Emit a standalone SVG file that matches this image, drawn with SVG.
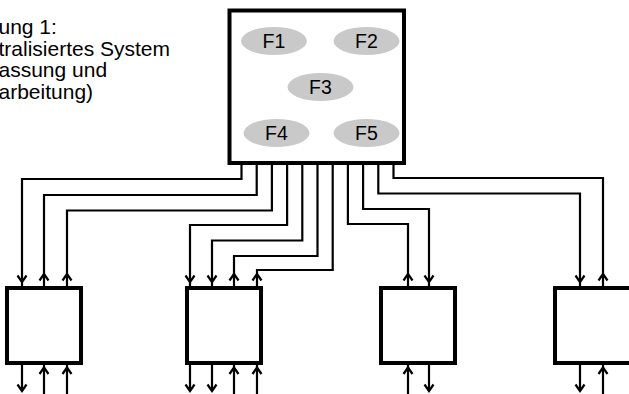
<svg xmlns="http://www.w3.org/2000/svg" xmlns:xlink="http://www.w3.org/1999/xlink" width="629" height="394" viewBox="0 0 629 394">
<style>
.box{fill:#fff;stroke:#000;stroke-width:4}
.ell{fill:#c9c9c9;stroke:none}
.lbl{font-family:"Liberation Sans",Arial,sans-serif;font-size:19.5px;fill:#000;text-anchor:middle}
.title{font-family:"Liberation Sans",Arial,sans-serif;font-size:21px;fill:#000}
.wire{fill:none;stroke:#000;stroke-width:2.2}
</style>
<defs>
<path id="ahd" d="M-4.5,-6.5 L0,0 L4.5,-6.5" fill="none" stroke="#000" stroke-width="2.2"/>
<path id="ahu" d="M-4.5,6.5 L0,0 L4.5,6.5" fill="none" stroke="#000" stroke-width="2.2"/>
</defs>
<g id="title">
<text class="title" x="-1.5" y="34">ung 1:</text>
<text class="title" x="-1.5" y="55.5">tralisiertes System</text>
<text class="title" x="-1.5" y="77">assung und</text>
<text class="title" x="-1.5" y="98.5">arbeitung)</text>
</g>
<g id="connectors">
<path class="wire" d="M241.5,163 V179 H22 V288"/>
<path class="wire" d="M256.7,163 V195 H44 V288"/>
<path class="wire" d="M271.9,163 V210.5 H67 V288"/>
<path class="wire" d="M287.1,163 V225 H190 V288"/>
<path class="wire" d="M302.3,163 V240.5 H212 V288"/>
<path class="wire" d="M317.5,163 V256 H234 V288"/>
<path class="wire" d="M332.7,163 V270 H257 V288"/>
<path class="wire" d="M347.9,163 V224 H408 V288"/>
<path class="wire" d="M363.1,163 V209 H429 V288"/>
<path class="wire" d="M378.3,163 V193.5 H580 V288"/>
<path class="wire" d="M393.5,163 V178 H603 V288"/>
<use xlink:href="#ahd" x="22" y="282"/>
<use xlink:href="#ahu" x="44" y="274"/>
<use xlink:href="#ahu" x="67" y="274"/>
<use xlink:href="#ahd" x="190" y="282"/>
<use xlink:href="#ahd" x="212" y="282"/>
<use xlink:href="#ahu" x="234" y="274"/>
<use xlink:href="#ahu" x="257" y="274"/>
<use xlink:href="#ahu" x="408" y="274"/>
<use xlink:href="#ahd" x="429" y="282"/>
<use xlink:href="#ahd" x="580" y="282"/>
<use xlink:href="#ahu" x="603" y="274"/>
<path class="wire" d="M22,363 V391 M44,363 V394 M67,363 V394 M190,363 V391 M212,363 V391 M234,363 V394 M257,363 V394 M408,363 V394 M429,363 V391 M580,363 V391 M603,363 V394"/>
<use xlink:href="#ahd" x="22" y="391"/>
<use xlink:href="#ahu" x="44" y="367.5"/>
<use xlink:href="#ahu" x="67" y="367.5"/>
<use xlink:href="#ahd" x="190" y="391"/>
<use xlink:href="#ahd" x="212" y="391"/>
<use xlink:href="#ahu" x="234" y="367.5"/>
<use xlink:href="#ahu" x="257" y="367.5"/>
<use xlink:href="#ahu" x="408" y="367.5"/>
<use xlink:href="#ahd" x="429" y="391"/>
<use xlink:href="#ahd" x="580" y="391"/>
<use xlink:href="#ahu" x="603" y="367.5"/>
</g>
<g id="central">
<rect class="box" x="229.5" y="10.5" width="174.5" height="152.5"/>
<g id="F1"><ellipse class="ell" cx="274" cy="41" rx="33" ry="14"/><text class="lbl" x="274" y="48">F1</text></g>
<g id="F2"><ellipse class="ell" cx="366.5" cy="41" rx="33" ry="14"/><text class="lbl" x="366.5" y="48">F2</text></g>
<g id="F3"><ellipse class="ell" cx="320.5" cy="87" rx="33" ry="14"/><text class="lbl" x="320.5" y="94">F3</text></g>
<g id="F4"><ellipse class="ell" cx="276.5" cy="133" rx="33" ry="14"/><text class="lbl" x="276.5" y="140">F4</text></g>
<g id="F5"><ellipse class="ell" cx="366.5" cy="133" rx="33" ry="14"/><text class="lbl" x="366.5" y="140">F5</text></g>
</g>
<g id="nodeA"><rect class="box" x="7" y="288" width="74" height="75"/></g>
<g id="nodeB"><rect class="box" x="187" y="288" width="74" height="75"/></g>
<g id="nodeC"><rect class="box" x="381" y="288" width="74" height="75"/></g>
<g id="nodeD"><rect class="box" x="555" y="288" width="78" height="75"/></g>
</svg>
